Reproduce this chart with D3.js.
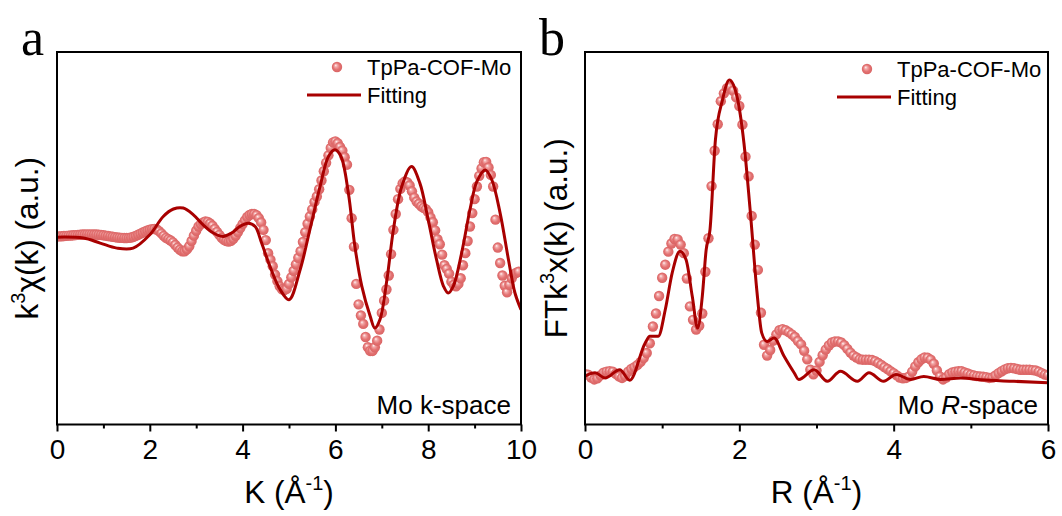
<!DOCTYPE html>
<html><head><meta charset="utf-8">
<script src="https://cdn.jsdelivr.net/npm/d3@7"></script>
<style>
body{margin:0;background:#fff}
svg{display:block}
text{font-family:"Liberation Sans",Arial,sans-serif;fill:#000}
text.letter{font-family:"Liberation Serif","Times New Roman",serif}
</style>
</head><body>
<svg id="chart" width="1062" height="516"></svg>
<script>
// ---------- DATA ----------
// Panel a: k-space, data points every 0.05 Å^-1 starting at k = 0
const kStep = 0.05;
const kData = [
  1.0,1.0,1.1,1.2,1.3,1.4,1.5,1.6,1.7,1.8,1.9,2.0,2.0,2.1,2.1,2.1,2.0,2.0,1.9,1.8,
  1.6,1.4,1.2,1.0,0.8,0.6,0.4,0.3,0.2,0.1,0.1,0.2,0.4,0.8,1.3,1.9,2.5,3.1,3.7,4.2,
  4.6,4.9,5.0,4.7,3.8,2.6,1.3,0.2,-0.5,-1.2,-2.2,-3.6,-5.0,-6.2,-7.0,-7.0,-6.0,-4.3,-1.5,1.4,
  4.0,6.3,7.6,8.5,9.0,8.8,7.9,6.7,5.0,3.4,1.8,0.2,-0.9,-1.5,-1.8,-1.4,-0.3,1.3,3.3,5.5,
  7.6,9.6,11.4,12.5,13.0,13.0,12.4,10.8,8.5,4.5,-1.0,-8.0,-11.5,-15.0,-19.5,-23.0,-25.8,-27.4,-27.8,-27.2,
  -24.5,-21.0,-17.5,-14.0,-10.5,-7.0,-2.0,3.2,7.8,11.7,15.5,19.5,22.4,26.3,31.0,36.0,40.5,44.5,48.5,51.5,
  52.0,51.0,49.0,47.0,43.5,39.5,26.0,10.8,-4.5,-24.5,-35.5,-41.5,-46.0,-53.0,-58.5,-60.5,-60.5,-58.5,-55.0,-49.0,
  -40.1,-33.5,-27.5,-20.0,-8.5,4.5,13.0,21.0,26.5,29.5,30.5,30.0,28.3,25.2,21.8,19.7,18.5,17.2,16.3,15.6,
  14.0,11.2,8.6,4.2,-0.5,-3.2,-8.8,-14.5,-16.5,-19.0,-23.3,-25.0,-25.8,-24.5,-21.5,-14.5,-8.0,-1.5,6.3,13.5,
  21.0,27.8,33.5,37.5,40.8,41.0,38.0,34.0,27.8,10.0,-5.0,-13.3,-20.0,-25.5,-29.0,-25.0,-21.5,-19.3,-18.5,-18.0
];
// Panel a: fitting curve
const kFitX = [0,0.57,0.93,1.29,1.64,2.0,2.29,2.51,2.72,2.94,3.15,3.37,3.58,3.76,3.94,4.12,4.27,4.41,4.59,4.81,
  5.0,5.24,5.45,5.67,5.85,5.99,6.12,6.28,6.42,6.57,6.75,6.85,6.96,7.11,7.25,7.43,7.64,7.82,8.0,8.18,
  8.33,8.43,8.54,8.72,8.90,9.05,9.23,9.37,9.55,9.73,9.87,10.0];
const kFitY = [0.6,0.1,-2.6,-5.3,-5.3,1.9,11.7,15.7,16.2,12.6,7.2,2.8,1.0,2.8,6.3,8.1,6.3,-2.6,-15.1,-27.6,
  -33,-16.9,4.6,27.8,43.9,47.5,43.9,24.2,-4.4,-25.8,-41.9,-48.2,-43.7,-22.3,4.6,27.8,38.5,29.6,9.9,-11.5,
  -25.8,-29.4,-25.8,-8,15.3,30.5,36.7,31.4,13.5,-11.5,-29.4,-38.3];

// Panel b: R-space, data points every 0.04 Å starting at R = 0
const rStep = 0.04;
const rData = [
  13.5,13.4,12.6,12.1,12.4,13.2,13.9,14.2,14.3,14.2,13.6,12.9,12.5,13.0,14.2,14.9,15.4,16.0,16.8,17.8,19.2,21.8,26.3,29.8,34.5,
  39.4,42.9,46.4,48.6,49.8,49.7,48.3,46.0,39.2,31.7,28.1,25.5,26.5,29.8,41.0,50.0,64.0,73.5,80.6,86.8,88.9,90.3,90.6,89.6,87.8,
  85.5,80.5,71.9,66.6,56.0,48.3,41.5,30.0,21.4,18.5,20.0,22.5,24.2,25.3,25.6,25.3,24.8,24.2,23.5,22.4,21.5,19.8,17.5,14.7,13.5,
  14.5,16.8,18.6,20.1,21.2,22.0,22.3,22.3,22.0,21.3,20.3,19.3,18.5,18.0,17.5,17.4,17.4,17.4,17.3,17.0,16.5,16.0,15.4,14.9,14.3,
  13.8,13.2,12.6,12.4,12.5,12.9,14.2,15.6,16.7,17.5,18.0,17.9,17.4,16.3,14.5,12.9,12.1,12.6,13.5,14.0,14.2,14.3,14.3,14.0,13.7,
  13.4,13.2,13.0,12.9,12.8,12.7,12.5,12.6,13.2,13.8,14.3,14.8,15.1,15.2,15.1,14.9,14.7,14.7,14.7,14.7,14.6,14.5,14.2,13.8,13.4,
  13.2
];
// Panel b: fitting curve
const rFitX = [0,0.13,0.26,0.45,0.58,0.78,0.84,0.95,1.04,1.13,1.23,1.31,1.39,1.46,1.52,1.57,1.62,1.69,1.78,1.87,
  1.97,2.06,2.14,2.23,2.29,2.36,2.45,2.58,2.71,2.77,2.97,3.14,3.31,3.53,3.68,3.87,4.03,4.22,4.39,4.61,
  4.87,5.13,5.56,6.0];
const rFitY = [13,13.9,12.5,14.7,11.9,21.9,23.7,23.7,30.8,40.7,46.5,44.2,34.4,25.9,34.4,46.9,52.3,76.4,87,92.5,
  88,75.5,57.6,35.3,24.6,22.3,23.2,18.3,13.9,12.1,14.7,11.6,14.3,11.6,13.9,11.6,13.4,12.1,12.9,12.1,
  12.5,12.0,11.6,11.2];

// Ticks and labels
const kMajor = [0,2,4,6,8,10];
const kMinor = [1,3,5,7,9];
const rMajor = [0,2,4,6];
const rMinor = [1,3,5];
const seriesNames = ["TpPa-COF-Mo", "Fitting"];

// ---------- DRAWING ----------
const svg = d3.select("#chart");
const defs = svg.append("defs");
const grad = defs.append("radialGradient").attr("id","ball")
  .attr("cx","0.5").attr("cy","0.5").attr("r","0.5").attr("fx","0.36").attr("fy","0.32");
grad.append("stop").attr("offset","0").attr("stop-color","#fff6f6");
grad.append("stop").attr("offset","0.28").attr("stop-color","#f2a8a8");
grad.append("stop").attr("offset","0.65").attr("stop-color","#e37272");
grad.append("stop").attr("offset","1").attr("stop-color","#d96464");

const LINE = "#a80000";

function panel(o) {
  const g = svg.append("g");
  const x = d3.scaleLinear().domain(o.xDomain).range([o.left, o.right]);
  const y = d3.scaleLinear().domain(o.yDomain).range([o.bottom, o.top]);

  const clipId = "clip" + o.id;
  defs.append("clipPath").attr("id", clipId).append("rect")
    .attr("x", o.left).attr("y", o.top).attr("width", o.right - o.left).attr("height", o.bottom - o.top);

  const plot = g.append("g").attr("clip-path", `url(#${clipId})`);
  const pts = o.data.map((v, i) => [i * o.step, v]);
  plot.selectAll("circle.pt").data(pts).join("circle")
    .attr("class","pt")
    .attr("cx", d => x(d[0])).attr("cy", d => y(d[1])).attr("r", 5.2)
    .attr("fill", "url(#ball)");

  const fit = o.fitX.map((v, i) => [v, o.fitY[i]]);
  plot.append("path").datum(fit)
    .attr("d", d3.line().x(d => x(d[0])).y(d => y(d[1])).curve(o.curve))
    .attr("fill","none").attr("stroke", LINE).attr("stroke-width", 3).attr("stroke-linejoin","round");

  // bottom axis (ticks outward)
  const ax = g.append("g").attr("transform", `translate(0,${o.bottom})`)
    .call(d3.axisBottom(x).tickValues(o.major).tickFormat(d3.format("d")).tickSizeInner(7).tickSizeOuter(0).tickPadding(8));
  ax.select(".domain").remove();
  ax.selectAll(".tick line").attr("stroke","#000").attr("stroke-width",2);
  ax.selectAll(".tick text").attr("font-size", 28).attr("fill","#000");
  const axm = g.append("g").attr("transform", `translate(0,${o.bottom})`)
    .call(d3.axisBottom(x).tickValues(o.minor).tickFormat("").tickSizeInner(4).tickSizeOuter(0));
  axm.select(".domain").remove();
  axm.selectAll(".tick line").attr("stroke","#000").attr("stroke-width",2);

  // frame
  g.append("rect").attr("x", o.left).attr("y", o.top)
    .attr("width", o.right - o.left).attr("height", o.bottom - o.top)
    .attr("fill","none").attr("stroke","#000").attr("stroke-width",2);

  // x title
  const xt = g.append("text").attr("x", (o.left + o.right) / 2).attr("y", 503)
    .attr("text-anchor","middle").attr("font-size", 31.5);
  xt.append("tspan").text(o.xTitle + " (Å");
  xt.append("tspan").attr("font-size", 20).attr("dy", -13).text("-1");
  xt.append("tspan").attr("dy", 13).text(")");

  // y title
  const yt = g.append("text")
    .attr("transform", `translate(${o.yTitleX},${(o.top + o.bottom) / 2}) rotate(-90)`)
    .attr("text-anchor","middle").attr("font-size", 31.5);
  yt.append("tspan").text(o.yTitle[0]);
  yt.append("tspan").attr("font-size", 20).attr("dy", -13).text("3");
  yt.append("tspan").attr("dy", 13).text(o.yTitle[1]);

  // legend
  const lx = o.legendX, ly = o.legendY;
  g.append("circle").attr("cx", lx - 30).attr("cy", ly - 8).attr("r", 5.2).attr("fill","url(#ball)");
  g.append("text").attr("x", lx).attr("y", ly).attr("font-size", 22).text(seriesNames[0]);
  g.append("line").attr("x1", lx - 60).attr("x2", lx - 6).attr("y1", ly + 20).attr("y2", ly + 20)
    .attr("stroke", LINE).attr("stroke-width", 3);
  g.append("text").attr("x", lx).attr("y", ly + 28).attr("font-size", 22).text(seriesNames[1]);

  // annotation
  const an = g.append("text").attr("x", o.right - 10).attr("y", o.bottom - 11)
    .attr("text-anchor","end").attr("font-size", 26);
  o.note(an);

  // panel letter
  svg.append("text").attr("class","letter").attr("x", o.letterX).attr("y", 55)
    .attr("font-size", 52).text(o.letter);
}

panel({
  id: "a", letter: "a", letterX: 21,
  left: 57, right: 521, top: 52, bottom: 424.5,
  xDomain: [0, 10], yDomain: [-100, 100],
  data: kData, step: kStep, fitX: kFitX, fitY: kFitY, curve: d3.curveCatmullRom.alpha(0.5),
  major: kMajor, minor: kMinor,
  xTitle: "K", yTitle: ["k", "χ(k) (a.u.)"], yTitleX: 38,
  legendX: 367, legendY: 75,
  note: t => t.text("Mo k-space")
});

panel({
  id: "b", letter: "b", letterX: 539,
  left: 585, right: 1048, top: 52, bottom: 424.5,
  xDomain: [0, 6], yDomain: [0, 100],
  data: rData, step: rStep, fitX: rFitX, fitY: rFitY, curve: d3.curveMonotoneX,
  major: rMajor, minor: rMinor,
  xTitle: "R", yTitle: ["FTk", "x(k) (a.u.)"], yTitleX: 567,
  legendX: 897, legendY: 77,
  note: t => { t.append("tspan").text("Mo "); t.append("tspan").attr("font-style","italic").text("R"); t.append("tspan").text("-space"); }
});
</script>
</body></html>
